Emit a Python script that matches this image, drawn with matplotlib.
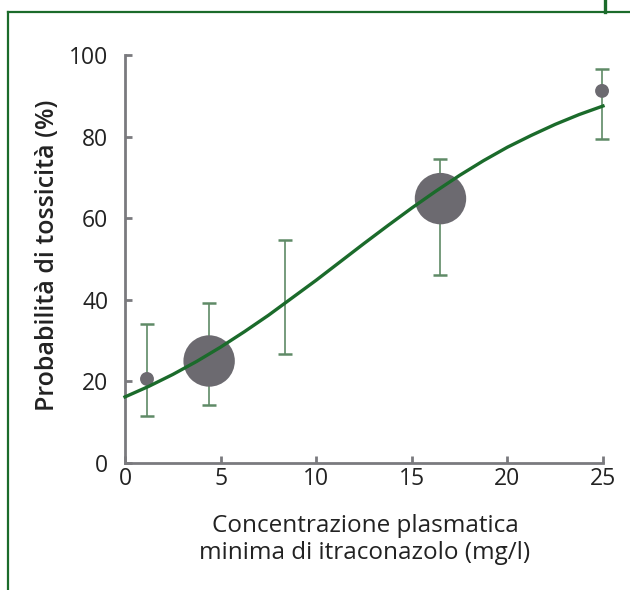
import matplotlib.pyplot as plt
from matplotlib.lines import Line2D

# dati
concentrazione = [1.15, 4.4, 8.35, 16.5, 24.95]
probabilita = [20.6, 25.0, 40.0, 64.8, 91.2]
err_alto = [34.0, 39.3, 54.7, 74.5, 96.5]
err_basso = [11.5, 14.2, 26.8, 46.0, 79.3]
dimensione = [100, 1370, 0, 1370, 100]

# curva logistica
curva_x = [0, 1.25, 2.5, 3.75, 5, 6.25, 7.5, 8.75, 10, 11.25, 12.5, 13.75,
           15, 16.25, 17.5, 18.75, 20, 21.25, 22.5, 23.75, 25]
curva_y = [16.2, 18.8, 21.7, 24.9, 28.4, 32.2, 36.2, 40.5, 44.8, 49.3, 53.8,
           58.2, 62.5, 66.6, 70.5, 74.1, 77.4, 80.3, 83.0, 85.4, 87.5]

verde = '#1b6b2b'
grigio = '#6c6a70'
asse = '#7a7a7e'
testo = '#222222'

plt.rcParams['font.family'] = ['Open Sans', 'DejaVu Sans']

fig = plt.figure(figsize=(6.3, 5.9), dpi=100)
ax = fig.add_axes([125 / 630, 1 - 463 / 590, 478 / 630, 408 / 590])

err = [[p - b for p, b in zip(probabilita, err_basso)],
       [a - p for p, a in zip(probabilita, err_alto)]]
ax.errorbar(concentrazione, probabilita, yerr=err, fmt='none', ecolor='#5f8a66',
            elinewidth=1.2, capsize=5, capthick=1.8, zorder=2, clip_on=False)
ax.scatter(concentrazione, probabilita, s=dimensione, color=grigio, zorder=3,
           linewidths=0, clip_on=False)
ax.plot(curva_x, curva_y, color=verde, lw=2.4, zorder=4, clip_on=False)

ax.set_xlim(0, 25)
ax.set_ylim(0, 100)
ax.set_xticks([0, 5, 10, 15, 20, 25])
ax.set_yticks([0, 20, 40, 60, 80, 100])
for s in ['top', 'right']:
    ax.spines[s].set_visible(False)
for s in ['left', 'bottom']:
    ax.spines[s].set_color(asse)
    ax.spines[s].set_linewidth(2)
ax.tick_params(direction='in', length=5, width=2, color=asse, labelsize=16.5,
               labelcolor=testo)
ax.tick_params(axis='y', pad=12)
ax.tick_params(axis='x', pad=3)

ax.set_ylabel('Probabilità di tossicità (%)', fontsize=18, fontweight='semibold',
              color=testo, va='center')
ax.yaxis.set_label_coords(-0.163, 0.51)
ax.set_xlabel('Concentrazione plasmatica\nminima di itraconazolo (mg/l)',
              fontsize=17.5, color=testo, va='top', linespacing=1.15)
ax.xaxis.set_label_coords(0.502, -0.126)

# cornice verde
fig.add_artist(Line2D([8 / 630, 8 / 630], [0, 1 - 12 / 590], color=verde, lw=1.6,
                      transform=fig.transFigure))
fig.add_artist(Line2D([8 / 630, 1], [1 - 12 / 590, 1 - 12 / 590], color=verde,
                      lw=1.6, transform=fig.transFigure))
fig.add_artist(Line2D([605 / 630, 605 / 630], [1 - 12 / 590, 1], color=verde,
                      lw=2.4, transform=fig.transFigure))

fig.savefig('out.png', dpi=100)
